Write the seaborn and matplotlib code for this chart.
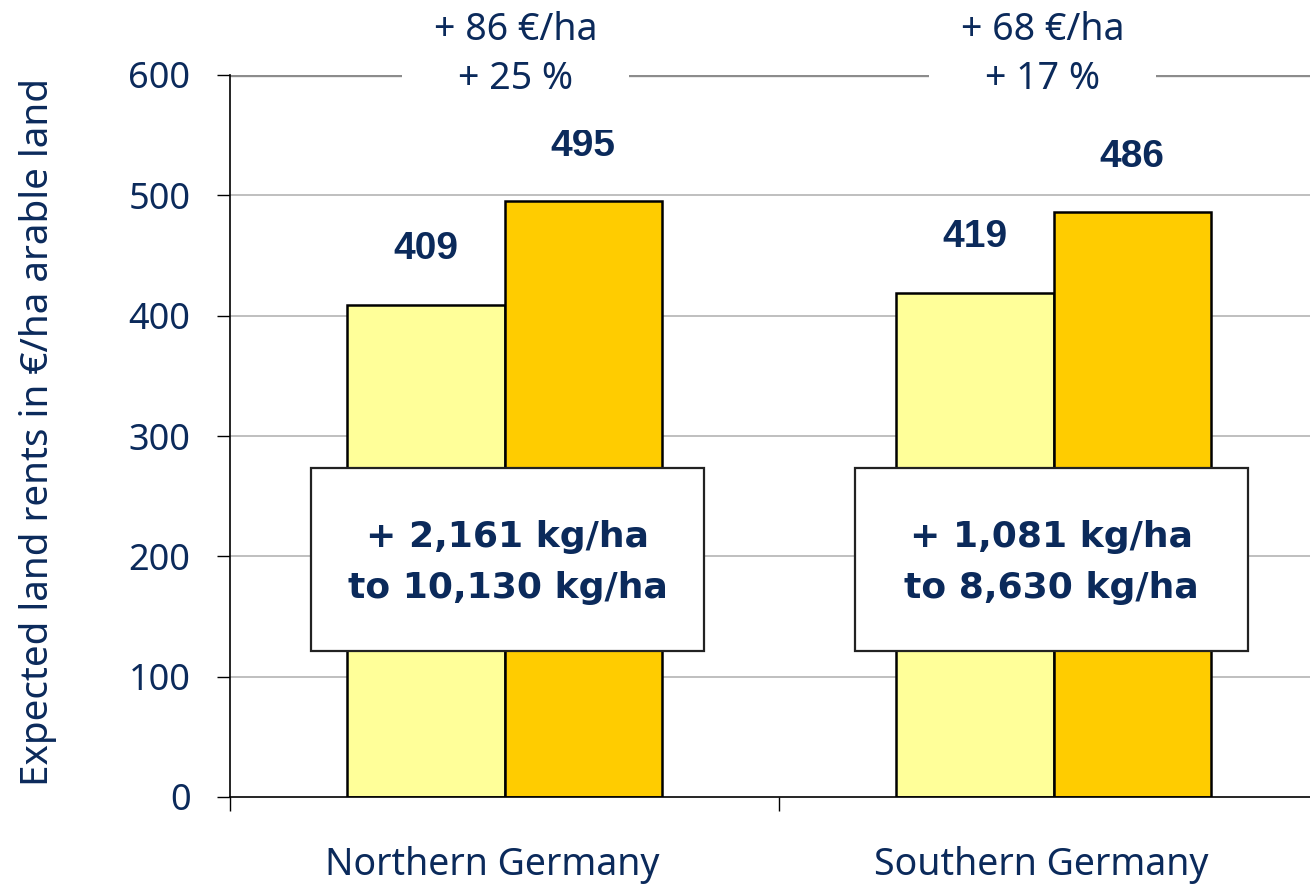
import matplotlib
matplotlib.use("Agg")
import matplotlib.pyplot as plt
from matplotlib.patches import Rectangle
from matplotlib.ticker import FixedLocator
import pandas as pd
import seaborn as sns

# ---- data -------------------------------------------------------------
regions = ["Northern Germany", "Southern Germany"]
scenarios = ["Current yield", "Higher yield"]
rent_current = [409, 419]
rent_higher = [495, 486]
increase_labels = ["+ 86 €/ha\n+ 25 %", "+ 68 €/ha\n+ 17 %"]
yield_labels = ["+ 2,161 kg/ha\nto 10,130 kg/ha", "+ 1,081 kg/ha\nto 8,630 kg/ha"]
y_ticks = [0, 100, 200, 300, 400, 500, 600]
y_label = "Expected land rents in €/ha arable land"

df = pd.DataFrame({
    "region": regions * 2,
    "scenario": [scenarios[0]] * 2 + [scenarios[1]] * 2,
    "rent": rent_current + rent_higher,
})

# ---- style ------------------------------------------------------------
sns.set_theme(style="white")
plt.rcParams["font.family"] = ["Noto Sans", "DejaVu Sans"]
NAVY = "#0B2A5B"
palette = {scenarios[0]: "#FFFF99", scenarios[1]: "#FFCC00"}

fig = plt.figure(figsize=(13.10, 8.86), dpi=100)
ax = fig.add_axes([230 / 1310, 89 / 886, 1080 / 1310, 722 / 886])

sns.barplot(data=df, x="region", y="rent", hue="scenario", order=regions,
            hue_order=scenarios, palette=palette, width=0.574, gap=0,
            edgecolor="black", linewidth=1.8, saturation=1, legend=False,
            ax=ax, zorder=3)

ax.set_ylim(0, 600)
ax.set_xlim(-0.5, -0.5 + 1080 / 549)

# gridlines
for v in y_ticks[1:-1]:
    ax.axhline(v, color="#B4B4B4", lw=1.2, zorder=1)
ax.axhline(600, color="#8C8C8C", lw=2.4, zorder=1)

# spines
for s in ["top", "right"]:
    ax.spines[s].set_visible(False)
for s in ["left", "bottom"]:
    ax.spines[s].set_color("black")
    ax.spines[s].set_linewidth(1.2)
    ax.spines[s].set_zorder(4)

# y axis
ax.set_yticks(y_ticks)
ax.set_yticklabels([str(t) for t in y_ticks])
ax.tick_params(axis="y", which="major", left=True, length=9.5, width=1.0,
               color="black", pad=19, labelsize=26, labelcolor=NAVY)
ax.set_ylabel(y_label, fontsize=27.8, color=NAVY)
ax.yaxis.set_label_coords(-0.16, 0.505)

# x axis: category labels, separator ticks between categories
label_shift = 12 / 549
ax.set_xticks([0 - label_shift, 1 - label_shift])
ax.set_xticklabels(regions)
ax.xaxis.set_minor_locator(FixedLocator([-0.5, 0.5]))
ax.tick_params(axis="x", which="major", bottom=False, length=0, pad=35,
               labelsize=27, labelcolor=NAVY)
ax.tick_params(axis="x", which="minor", bottom=True, length=10, width=1.0,
               color="black")
ax.set_xlabel("")

# value labels above bars
for cont in ax.containers:
    for bar in cont:
        h = bar.get_height()
        ax.annotate(f"{h:.0f}", (bar.get_x() + bar.get_width() / 2, h),
                    xytext=(0, 40), textcoords="offset points",
                    ha="center", va="center", fontsize=28,
                    family=["Liberation Sans", "DejaVu Sans"],
                    fontweight="bold", color=NAVY, zorder=5)

# yield boxes over the bars
box_centers = [0.0055, 0.997]
for xc, txt in zip(box_centers, yield_labels):
    ax.add_patch(Rectangle((xc - 0.358, 121), 0.716, 152, facecolor="white",
                           edgecolor="#222222", lw=1.6, zorder=6))
    ax.text(xc, 195, txt, ha="center", va="center", fontsize=26,
            family=["DejaVu Sans"], fontweight="bold", color=NAVY,
            linespacing=1.62, zorder=7)

# increase annotations breaking the top line
for i, txt in enumerate(increase_labels):
    ax.text(i + 0.02 - 0.04 * i, 617, txt, ha="center", va="center",
            fontsize=27, color=NAVY, linespacing=1.38, zorder=7,
            clip_on=False,
            bbox=dict(boxstyle="square,pad=0.85", facecolor="white",
                      edgecolor="none"))

fig.savefig("out.png", dpi=100)
